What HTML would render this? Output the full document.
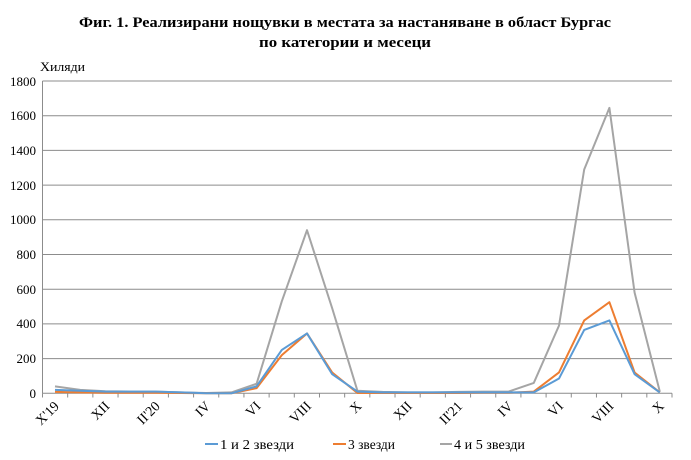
<!DOCTYPE html>
<html><head><meta charset="utf-8"><style>html,body{margin:0;padding:0;background:#fff}</style></head><body>
<svg width="691" height="455" xmlns="http://www.w3.org/2000/svg" font-family="Liberation Serif, serif">
<rect width="691" height="455" fill="#fff"/>
<text x="345" y="27" text-anchor="middle" font-weight="bold" font-size="15" textLength="532" lengthAdjust="spacingAndGlyphs">Фиг. 1. Реализирани нощувки в местата за настаняване в област Бургас</text>
<text x="345" y="47" text-anchor="middle" font-weight="bold" font-size="15" textLength="172" lengthAdjust="spacingAndGlyphs">по категории и месеци</text>
<text x="40" y="71" font-size="13" textLength="45" lengthAdjust="spacingAndGlyphs">Хиляди</text>
<g stroke="#8c8c8c" stroke-width="1">
<line x1="42.5" y1="81" x2="672" y2="81"/>
<line x1="42.5" y1="115.7" x2="672" y2="115.7"/>
<line x1="42.5" y1="150.4" x2="672" y2="150.4"/>
<line x1="42.5" y1="185.1" x2="672" y2="185.1"/>
<line x1="42.5" y1="219.8" x2="672" y2="219.8"/>
<line x1="42.5" y1="254.5" x2="672" y2="254.5"/>
<line x1="42.5" y1="289.2" x2="672" y2="289.2"/>
<line x1="42.5" y1="323.9" x2="672" y2="323.9"/>
<line x1="42.5" y1="358.6" x2="672" y2="358.6"/>
<line x1="42.5" y1="393.3" x2="672" y2="393.3"/>
<line x1="42.5" y1="81" x2="42.5" y2="393.3"/>
</g>
<g stroke="#8c8c8c" stroke-width="1" id="ticks"></g>
<g font-size="13" text-anchor="end">
<text x="36" y="86">1800</text><text x="36" y="120">1600</text><text x="36" y="155">1400</text><text x="36" y="190">1200</text><text x="36" y="224">1000</text><text x="36" y="259">800</text><text x="36" y="294">600</text><text x="36" y="328">400</text><text x="36" y="363">200</text><text x="36" y="398">0</text>
</g>
<g id="xl" font-size="14" text-anchor="end"></g>
<g id="series" fill="none" stroke-width="2" stroke-linejoin="round"></g>
<g font-size="14">
<line x1="205" y1="444" x2="218" y2="444" stroke="#5b9bd5" stroke-width="2"/><text x="220" y="449" textLength="74" lengthAdjust="spacingAndGlyphs">1 и 2 звезди</text>
<line x1="333" y1="444" x2="346" y2="444" stroke="#ed7d31" stroke-width="2"/><text x="348" y="449" textLength="47" lengthAdjust="spacingAndGlyphs">3 звезди</text>
<line x1="440" y1="444" x2="452" y2="444" stroke="#a5a5a5" stroke-width="2"/><text x="454" y="449" textLength="71" lengthAdjust="spacingAndGlyphs">4 и 5 звезди</text>
</g>
</svg>
<script>
var NS="http://www.w3.org/2000/svg";
function X(i){return 55+i*25.2}
function Y(v){return 393.3-v*0.1735}
var t=document.getElementById("ticks");
for(var k=0;k<=25;k++){var l=document.createElementNS(NS,"line");var x=42.5+k*25.18;l.setAttribute("x1",x);l.setAttribute("x2",x);l.setAttribute("y1",393.3);l.setAttribute("y2",397.5);t.appendChild(l);}
var labs=["X'19","XII","II'20","IV","VI","VIII","X","XII","II'21","IV","VI","VIII","X"];
var xl=document.getElementById("xl");
labs.forEach(function(s,j){var tx=document.createElementNS(NS,"text");var x=X(j*2)+5,y=407;tx.setAttribute("x",x);tx.setAttribute("y",y);tx.setAttribute("transform","rotate(-45 "+x+" "+y+")");tx.textContent=s;xl.appendChild(tx);});
var data=[
["#a5a5a5",[40,20,12,10,10,5,2,5,55,530,940,490,15,8,5,5,8,10,10,60,390,1290,1645,580,10]],
["#ed7d31",[8,5,3,3,3,2,0,0,30,220,345,120,2,2,2,2,2,3,3,10,120,420,525,120,5]],
["#5b9bd5",[20,15,10,10,10,5,0,0,40,250,345,110,10,5,5,5,5,5,5,5,85,365,420,110,5]]];
var g=document.getElementById("series");
data.forEach(function(d){var p=document.createElementNS(NS,"polyline");p.setAttribute("points",d[1].map(function(v,i){return X(i)+","+Y(v)}).join(" "));p.setAttribute("stroke",d[0]);g.appendChild(p);});
</script>
</body></html>
